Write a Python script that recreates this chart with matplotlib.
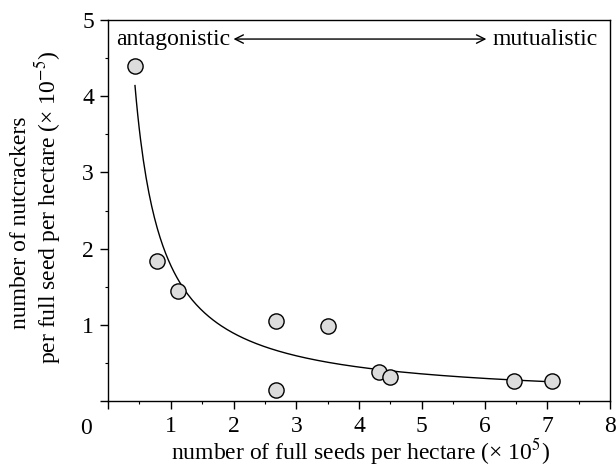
import numpy as np
import matplotlib
matplotlib.use("Agg")
import matplotlib.pyplot as plt
from matplotlib.ticker import MultipleLocator

plt.rcParams['font.family'] = ['Liberation Serif', 'DejaVu Serif']
plt.rcParams['mathtext.fontset'] = 'stix'

# data
seeds = [0.43, 0.78, 1.12, 2.67, 2.67, 3.50, 4.32, 4.49, 6.47, 7.07]
nutcrackers = [4.40, 1.84, 1.44, 1.05, 0.15, 0.98, 0.38, 0.32, 0.26, 0.26]
# fitted curve y = a * x**b
fit_a = 1.78
fit_b = -1.0
fit_range = [0.43, 7.07]
x_ticks = [0, 1, 2, 3, 4, 5, 6, 7, 8]
x_ticklabels = ['', '1', '2', '3', '4', '5', '6', '7', '8']
y_ticks = [0, 1, 2, 3, 4, 5]
y_ticklabels = ['', '1', '2', '3', '4', '5']

W, H = 616, 468
fig = plt.figure(figsize=(W/100, H/100), dpi=100)
ax = fig.add_axes([108/W, 67/H, 502/W, 381/H])

xf = np.linspace(fit_range[0], fit_range[1], 300)
ax.plot(xf, fit_a * xf**fit_b, color='black', lw=1.0, zorder=2)
ax.scatter(seeds, nutcrackers, s=120, facecolor='#dcdcdc', edgecolor='black',
           linewidth=1.0, zorder=3)

ax.set_xlim(0, 8)
ax.set_ylim(0, 5)
ax.set_xticks(x_ticks)
ax.set_xticklabels(x_ticklabels)
ax.set_yticks(y_ticks)
ax.set_yticklabels(y_ticklabels)
ax.xaxis.set_minor_locator(MultipleLocator(0.5))
ax.yaxis.set_minor_locator(MultipleLocator(0.5))
ax.tick_params(which='major', direction='out', length=6, width=1.0,
               labelsize=17, top=False, right=False)
ax.tick_params(axis='x', which='major', pad=5)
ax.tick_params(axis='y', which='major', pad=4)
ax.tick_params(which='minor', direction='out', length=2.5, width=0.8,
               top=False, right=False)
for s in ax.spines.values():
    s.set_linewidth(1.0)

ax.annotate('0', xy=(0, 0), xycoords='data', xytext=(-22, -27),
            textcoords='offset pixels', ha='center', va='center', fontsize=17)

fig.text(360/W, (H-459)/H, 'number of full seeds per hectare (× 10$^5$)',
         ha='center', va='baseline', fontsize=17)
fig.text(26/W, 1-223/H, 'number of nutcrackers', rotation=90,
         rotation_mode='anchor', ha='center', va='baseline', fontsize=17)
fig.text(55/W, 1-207/H, 'per full seed per hectare (× 10$^{-5}$)', rotation=90,
         rotation_mode='anchor', ha='center', va='baseline', fontsize=17)

ax.text(0.13, 4.75, 'antagonistic', ha='left', va='center', fontsize=17)
ax.text(6.12, 4.75, 'mutualistic', ha='left', va='center', fontsize=17)
ax.annotate('', xy=(2.0, 4.75), xytext=(6.03, 4.75),
            arrowprops=dict(arrowstyle='<->', color='black', lw=1.0,
                            shrinkA=0, shrinkB=0, mutation_scale=15))

fig.savefig('out.png', dpi=100)
